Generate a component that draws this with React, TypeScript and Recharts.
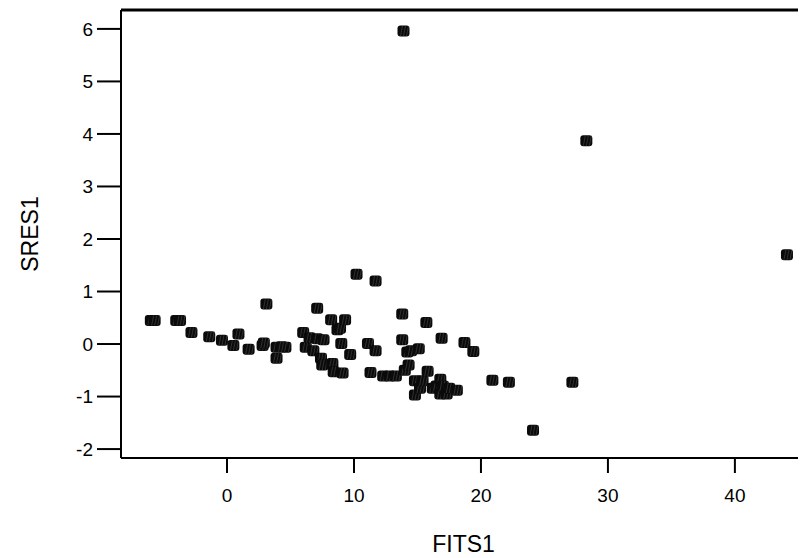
import React from 'react';
import { ScatterChart, Scatter, XAxis, YAxis, ReferenceLine, Label } from 'recharts';

const fits: number[] = [
  -6.0, -5.7, -4.0, -3.7, -2.8, -1.4, -0.4, 0.5, 0.9, 1.7,
  2.8, 2.9, 3.1, 3.9, 4.6, 3.9, 4.3, 6.0, 6.2, 6.5,
  6.8, 7.1, 7.1, 7.4, 7.5, 7.6, 8.2, 8.3, 8.4, 8.7,
  8.9, 9.1, 9.0, 9.3, 9.7, 10.2, 11.1, 11.3, 11.7, 11.7,
  12.3, 12.8, 13.3, 13.8, 13.8, 13.9, 14.0, 14.2, 14.3, 14.5,
  14.8, 14.8, 15.1, 15.2, 15.4, 15.7, 15.8, 16.2, 16.5, 16.8,
  16.9, 16.8, 17.0, 17.3, 17.5, 18.1, 18.7, 19.4, 20.9, 22.2,
  24.1, 27.2, 28.3, 44.1,
];
const sres: number[] = [
  0.45, 0.45, 0.45, 0.45, 0.22, 0.14, 0.07, -0.03, 0.19, -0.10,
  -0.03, 0.02, 0.76, -0.06, -0.06, -0.27, -0.05, 0.22, -0.06, 0.12,
  -0.13, 0.68, 0.10, -0.27, -0.40, 0.08, 0.46, -0.37, -0.53, 0.27,
  0.30, -0.55, 0.01, 0.46, -0.20, 1.33, 0.01, -0.54, -0.13, 1.20,
  -0.61, -0.61, -0.61, 0.57, 0.08, 5.96, -0.50, -0.15, -0.40, -0.13,
  -0.70, -0.97, -0.09, -0.84, -0.70, 0.41, -0.52, -0.84, -0.80, -0.67,
  0.11, -0.95, -0.80, -0.95, -0.84, -0.88, 0.03, -0.14, -0.69, -0.73,
  -1.64, -0.73, 3.87, 1.70,
];
const xTicks: number[] = [0, 10, 20, 30, 40];
const yTicks: number[] = [-2, -1, 0, 1, 2, 3, 4, 5, 6];

const data = fits.map((x, i) => ({ x, y: sres[i] }));

const FONT = '"Liberation Sans", Arial, sans-serif';
const Y_MAX = 6.36;

const Marker = (props: any) => {
  const { cx, cy } = props;
  if (cx == null || cy == null) return null;
  return (
    <g>
      <rect x={cx - 6} y={cy - 5.5} width={12} height={11} rx={3} ry={3} fill="#0a0a0a" />
      <line x1={cx - 3} y1={cy + 5} x2={cx - 1} y2={cy - 5} stroke="#4a4a4a" strokeWidth={0.6} />
      <line x1={cx} y1={cy + 5} x2={cx + 2} y2={cy - 5} stroke="#4a4a4a" strokeWidth={0.6} />
      <line x1={cx + 3} y1={cy + 5} x2={cx + 5} y2={cy - 5} stroke="#4a4a4a" strokeWidth={0.6} />
    </g>
  );
};

const YLabel = (props: any) => {
  const vb = props.viewBox || {};
  const cy = (vb.y || 0) + (vb.height || 0) / 2;
  const cx = 22;
  return (
    <text
      x={cx}
      y={cy}
      transform={`rotate(-90, ${cx}, ${cy})`}
      textAnchor="middle"
      dominantBaseline="central"
      fill="#000"
      fontSize={23}
      fontFamily={FONT}
    >
      SRES1
    </text>
  );
};

export default function App() {
  return (
    <div style={{ width: 798, height: 550 }}>
      <ScatterChart width={798} height={550} margin={{ top: 2, right: 0, bottom: 0, left: 0 }}>
        <XAxis
          type="number"
          dataKey="x"
          domain={[-8.35, 45.6]}
          allowDataOverflow
          ticks={xTicks}
          height={100}
          tickSize={15}
          tickMargin={16}
          axisLine={{ stroke: '#000', strokeWidth: 2 }}
          tickLine={{ stroke: '#000', strokeWidth: 2 }}
          tick={{ fill: '#000', fontSize: 19, fontFamily: FONT }}
          label={{ value: 'FITS1', position: 'insideBottom', offset: 6, fill: '#000', fontSize: 23, fontFamily: FONT }}
        />
        <YAxis
          type="number"
          dataKey="y"
          domain={[-2.17, Y_MAX]}
          allowDataOverflow
          ticks={yTicks}
          width={113}
          tickSize={24}
          tickMargin={4}
          axisLine={{ stroke: '#000', strokeWidth: 2 }}
          tickLine={{ stroke: '#000', strokeWidth: 2 }}
          tick={{ fill: '#000', fontSize: 19, fontFamily: FONT }}
        >
          <Label content={<YLabel />} />
        </YAxis>
        <ReferenceLine y={Y_MAX} stroke="#000" strokeWidth={3} ifOverflow="visible" />
        <Scatter data={data} shape={<Marker />} isAnimationActive={false} />
      </ScatterChart>
    </div>
  );
}
